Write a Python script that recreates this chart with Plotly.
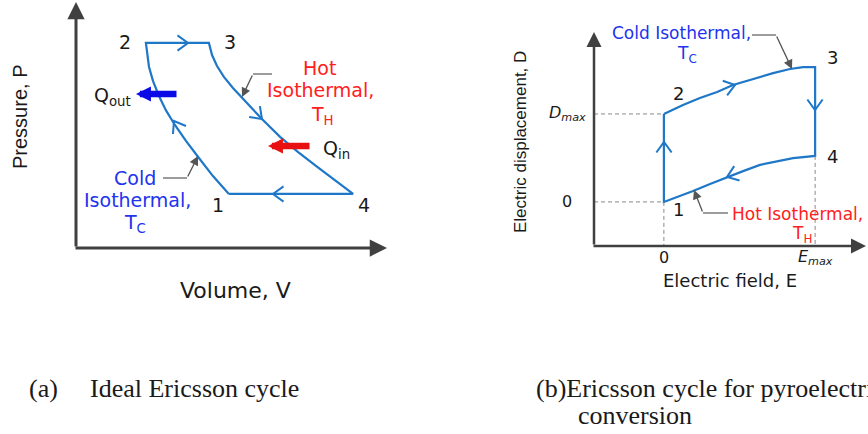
import math
import plotly.graph_objects as go

# ---------------- DATA ----------------
# (a) Ideal Ericsson cycle, P-V plane (arbitrary units, 0-100)
cold_V = [49.0, 43.9, 39.4, 35.3, 31.7, 28.8, 26.6, 24.7, 23.4, 22.8, 22.4]   # state 1 -> 2
cold_P = [21.8, 29.0, 36.3, 43.1, 49.6, 55.6, 61.3, 67.3, 73.0, 77.8, 82.7]
hot_V = [42.6, 43.6, 45.2, 47.4, 50.3, 54.2, 59.6, 65.4, 71.2, 76.9, 83.0, 88.8]  # state 3 -> 4
hot_P = [82.7, 77.8, 73.4, 69.0, 64.5, 59.3, 52.0, 44.8, 38.7, 33.1, 27.4, 21.8]

# (b) Ericsson cycle for pyroelectric conversion, D-E plane (arbitrary units, 0-100)
coldD_E = [25.6, 32.6, 38.8, 45.1, 50.9, 58.2, 65.6, 71.8, 76.6, 81.0]   # state 2 -> 3
coldD_D = [61.7, 65.9, 69.2, 72.0, 75.2, 78.0, 80.8, 82.7, 83.6, 83.6]
hotD_E = [25.6, 30.4, 36.3, 42.5, 48.7, 54.6, 60.8, 67.0, 72.9, 81.0]    # state 1 -> 4
hotD_D = [20.6, 22.9, 25.7, 29.0, 32.2, 35.0, 37.9, 39.7, 41.1, 42.1]

E_ticks = [25.6, 81.0]
E_ticklabels = ["0", "<i>E<sub>max</sub></i>"]
D_ticks = [20.6, 61.7]
D_ticklabels = ["0", "<i>D<sub>max</sub></i>"]

# ---------------- LAYOUT / STYLE ----------------
W, H = 868, 434
CYC = "#1f77c8"
DARK = "#1a1a1a"
AXC = "#404040"
RED = "#ff2020"
BLUE = "#2233ee"
SANS = "DejaVu Sans"
ARIAL = "Liberation Sans"
SERIF = "Liberation Serif"

# panel pixel geometry: origin px, px per unit
PA = dict(x0=76, sx=3.12, y0=248, sy=2.48)
PB = dict(x0=594, sx=2.73, y0=246, sy=2.14)


def px(x):
    return x / W


def py(y):
    return 1 - y / H


def chevrons(path_x, path_y, tips, pan, length=13, half=36):
    X = [pan["x0"] + pan["sx"] * v for v in path_x]
    Y = [pan["y0"] - pan["sy"] * v for v in path_y]
    ox, oy = [], []
    for tx, ty in tips:
        tpx = pan["x0"] + pan["sx"] * tx
        tpy = pan["y0"] - pan["sy"] * ty
        best, bd = None, 1e9
        for i in range(len(X) - 1):
            ax_, ay_, bx_, by_ = X[i], Y[i], X[i + 1], Y[i + 1]
            dx, dy = bx_ - ax_, by_ - ay_
            L2 = dx * dx + dy * dy
            if L2 == 0:
                continue
            t = max(0, min(1, ((tpx - ax_) * dx + (tpy - ay_) * dy) / L2))
            d = math.hypot(ax_ + t * dx - tpx, ay_ + t * dy - tpy)
            if d < bd:
                bd, best = d, (dx, dy)
        dx, dy = best
        n = math.hypot(dx, dy)
        bx, by = -dx / n, -dy / n
        for s in (1, -1):
            a = math.radians(half * s)
            ex = tpx + length * (bx * math.cos(a) - by * math.sin(a))
            ey = tpy + length * (bx * math.sin(a) + by * math.cos(a))
            if s == 1:
                ox += [(ex - pan["x0"]) / pan["sx"]]
                oy += [(pan["y0"] - ey) / pan["sy"]]
                ox += [tx]
                oy += [ty]
            else:
                ox += [(ex - pan["x0"]) / pan["sx"], None]
                oy += [(pan["y0"] - ey) / pan["sy"], None]
    return ox, oy


fig = go.Figure()

# ---- panel (a) cycle ----
a_x = cold_V + hot_V + [cold_V[0]]
a_y = cold_P + hot_P + [cold_P[0]]
fig.add_trace(go.Scatter(x=a_x, y=a_y, mode="lines", line=dict(color=CYC, width=2.2),
                         xaxis="x", yaxis="y", hoverinfo="skip", showlegend=False))
tipsA = [((188 - 76) / 3.12, (248 - 43) / 2.48),
         ((262 - 76) / 3.12, (248 - 119) / 2.48),
         ((273 - 76) / 3.12, (248 - 194) / 2.48),
         ((174 - 76) / 3.12, (248 - 121) / 2.48)]
cx, cy = chevrons(a_x, a_y, tipsA, PA)
fig.add_trace(go.Scatter(x=cx, y=cy, mode="lines", line=dict(color=CYC, width=2),
                         xaxis="x", yaxis="y", hoverinfo="skip", showlegend=False))

# ---- panel (b) cycle ----
b_x = coldD_E + hotD_E[::-1] + [coldD_E[0]]
b_y = coldD_D + hotD_D[::-1] + [coldD_D[0]]
fig.add_trace(go.Scatter(x=b_x, y=b_y, mode="lines", line=dict(color=CYC, width=2.2),
                         xaxis="x2", yaxis="y2", hoverinfo="skip", showlegend=False))
tipsB = [((664 - 594) / 2.73, (246 - 142) / 2.14),
         ((735 - 594) / 2.73, (246 - 85) / 2.14),
         ((815 - 594) / 2.73, (246 - 110) / 2.14),
         ((727 - 594) / 2.73, (246 - 177) / 2.14)]
cx, cy = chevrons(b_x, b_y, tipsB, PB)
fig.add_trace(go.Scatter(x=cx, y=cy, mode="lines", line=dict(color=CYC, width=2),
                         xaxis="x2", yaxis="y2", hoverinfo="skip", showlegend=False))

# dashed guide lines
gx = [0, E_ticks[0], None, 0, E_ticks[0], None, E_ticks[0], E_ticks[0], None, E_ticks[1], E_ticks[1]]
gy = [D_ticks[1], D_ticks[1], None, D_ticks[0], D_ticks[0], None, D_ticks[0], 0, None, hotD_D[-1], 0]
fig.add_trace(go.Scatter(x=gx, y=gy, mode="lines",
                         line=dict(color="#8a8a8a", width=1, dash="4px,3px"),
                         xaxis="x2", yaxis="y2", hoverinfo="skip", showlegend=False))

ann = []


def text(t, x, y, size, color=DARK, family=SANS, **kw):
    d = dict(text=t, x=px(x), y=py(y), xref="paper", yref="paper", showarrow=False,
             font=dict(size=size, color=color, family=family), xanchor="center", yanchor="middle")
    d.update(kw)
    ann.append(d)


def arrow(tipx, tipy, tailx, taily, color, width, size, head=2):
    ann.append(dict(text="", x=px(tipx), y=py(tipy), xref="paper", yref="paper",
                    ax=tailx - tipx, ay=taily - tipy, axref="pixel", ayref="pixel",
                    showarrow=True, arrowhead=head, arrowwidth=width, arrowsize=size,
                    arrowcolor=color, standoff=0))


# axes arrows
arrow(76, 2, 76, 248, AXC, 3, 1.15)
arrow(387, 248, 74, 248, AXC, 3, 1.15)
arrow(594, 32, 594, 246, AXC, 2.5, 1.2)
arrow(866, 246, 592, 246, AXC, 2.5, 1.2)

# Q arrows
arrow(136, 94, 178, 94, "#0a0ae6", 6.5, 0.46)
arrow(268, 146, 311, 146, "#e81010", 6.5, 0.46)

# leaders
shapes = []


def leader(hx0, hx1, hy, tipx, tipy, cornerx):
    shapes.append(dict(type="line", xref="paper", yref="paper", x0=px(hx0), x1=px(hx1),
                       y0=py(hy), y1=py(hy), line=dict(color="#666666", width=1.3)))
    arrow(tipx, tipy, cornerx, hy, "#555555", 1.3, 1.4)


leader(253, 272, 74, 242, 97, 253)
leader(163, 187, 178, 198, 156, 187)
leader(752, 776, 35, 792, 69, 776)
leader(703, 728, 213, 694, 190, 703)

# panel (a) texts
text("2", 125, 42, 19)
text("3", 230, 42, 19)
text("1", 218, 205, 19)
text("4", 364, 205, 19)
text("Q<sub>out</sub>", 113, 97, 19)
text("Q<sub>in</sub>", 336, 149, 19)
text("Hot", 319, 68, 19, RED)
text("Isothermal,", 320, 90, 19, RED)
text("T<sub>H</sub>", 322, 115, 19, RED)
text("Cold", 135, 178, 19, BLUE)
text("Isothermal,", 137, 200, 19, BLUE)
text("T<sub>C</sub>", 135, 223, 19, BLUE)
text("Volume, V", 235, 290, 22)
text("Pressure, P", 20, 117, 20, family=ARIAL, textangle=-90)

# panel (b) texts
text("Cold Isothermal,", 681, 33, 17, BLUE)
text("T<sub>C</sub>", 687, 55, 17, BLUE)
text("Hot Isothermal,", 797, 214, 17, RED)
text("T<sub>H</sub>", 802, 234, 17, RED)
text("2", 678, 93, 18)
text("3", 832, 58, 18)
text("4", 832, 157, 18)
text("1", 678, 209, 18)
text("Electric field, E", 730, 280, 18)
text("Electric displacement, D", 520, 142, 17, family=ARIAL, textangle=-90)
for v, lab in zip(E_ticks, E_ticklabels):
    ann.append(dict(text=lab, x=v, y=py(257), xref="x2", yref="paper", showarrow=False,
                    font=dict(size=16, color=DARK, family=SANS), xanchor="center", yanchor="middle"))
for v, lab in zip(D_ticks, D_ticklabels):
    ann.append(dict(text=lab, x=px(567), y=v, xref="paper", yref="y2", showarrow=False,
                    font=dict(size=16, color=DARK, family=SANS), xanchor="center", yanchor="middle"))

# captions
text("(a)", 27, 388, 26, DARK, SERIF, xanchor="left")
text("Ideal Ericsson cycle", 88, 388, 26, DARK, SERIF, xanchor="left")
text("(b)Ericsson cycle for pyroelectric", 534, 388, 26, DARK, SERIF, xanchor="left")
text("conversion", 576, 415, 26, DARK, SERIF, xanchor="left")

hidden = dict(visible=False, fixedrange=True, showgrid=False, zeroline=False)
fig.update_layout(
    width=W, height=H, margin=dict(l=0, r=0, t=0, b=0),
    paper_bgcolor="white", plot_bgcolor="white", showlegend=False,
    xaxis=dict(domain=[px(76), px(388)], range=[0, 100], **hidden),
    yaxis=dict(domain=[py(248), py(0)], range=[0, 100], **hidden),
    xaxis2=dict(domain=[px(594), px(867)], range=[0, 100], anchor="y2", **hidden),
    yaxis2=dict(domain=[py(246), py(32)], range=[0, 100], anchor="x2", **hidden),
    annotations=ann, shapes=shapes,
)
fig.write_html("out.html", config={"displayModeBar": False},
               post_script="document.body.style.margin='0';document.body.style.overflow='hidden';")
